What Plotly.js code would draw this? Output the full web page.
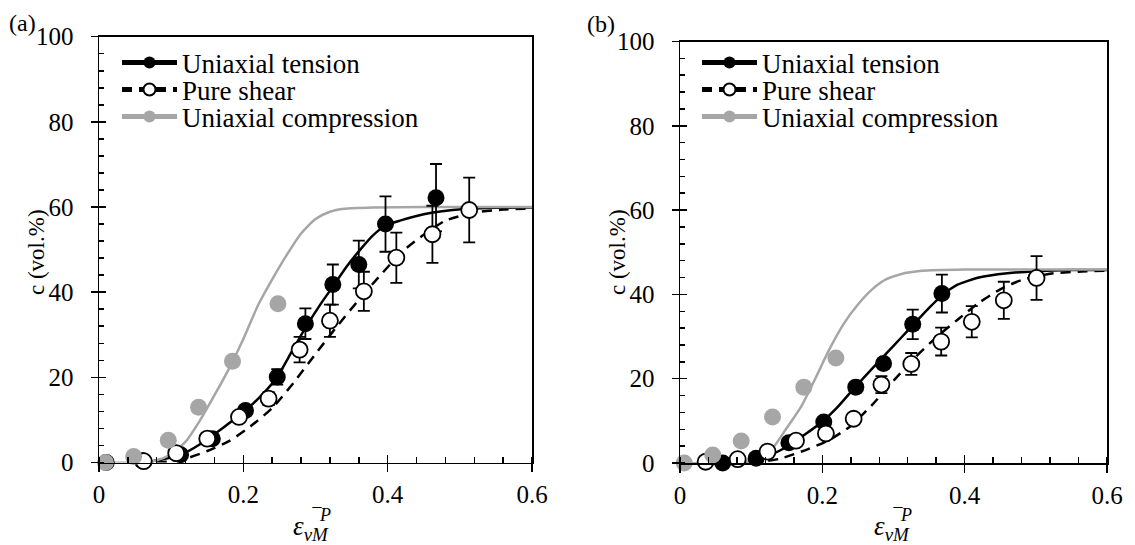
<!DOCTYPE html>
<html>
<head>
<meta charset="utf-8">
<script src="https://cdn.plot.ly/plotly-3.0.1.min.js"></script>
<style>html,body{margin:0;padding:0;background:#fff;}#chart{width:1135px;height:545px;}</style>
</head>
<body>
<div id="chart"></div>
<script>
// ---------- data ----------
var seriesNames = ["Uniaxial tension", "Pure shear", "Uniaxial compression"];
var xTickVals = [0, 0.2, 0.4, 0.6];
var yTickVals = [0, 20, 40, 60, 80, 100];

// Panel (a) measured points
var aTensionX = [0.01, 0.06, 0.113, 0.157, 0.203, 0.247, 0.286, 0.324, 0.36, 0.397, 0.467];
var aTensionY = [0, 0.4, 1.8, 5.6, 12.2, 20.1, 32.6, 41.8, 46.5, 56.0, 62.2];
var aTensionErr = [0, 0, 0, 0, 1, 1.8, 3.6, 4.7, 5.6, 6.5, 7.9];
var aShearX = [0.062, 0.107, 0.150, 0.194, 0.235, 0.278, 0.320, 0.367, 0.412, 0.462, 0.513];
var aShearY = [0.3, 2.2, 5.6, 10.7, 15.0, 26.5, 33.3, 40.2, 48.1, 53.6, 59.3];
var aShearErr = [0, 0, 0, 0, 1.5, 3, 3.8, 4.6, 5.9, 6.7, 7.6];
var aCompX = [0.009, 0.048, 0.096, 0.138, 0.185, 0.248];
var aCompY = [0, 1.4, 5.2, 13.0, 23.8, 37.3];

// Panel (a) fitted curves
var aTensionFitX = [0.05, 0.07, 0.09, 0.113, 0.14, 0.173, 0.203, 0.228, 0.247, 0.265, 0.286, 0.307, 0.324, 0.343, 0.362, 0.38, 0.397, 0.417, 0.44, 0.463, 0.49, 0.514, 0.55, 0.6];
var aTensionFitY = [0, 0.2, 0.8, 1.8, 4.3, 8.3, 12.2, 16.3, 20.1, 25.4, 31.6, 37.2, 41.3, 46, 50, 53.4, 55.6, 56.8, 57.9, 58.7, 59.3, 59.6, 59.8, 59.9];
var aShearFitX = [0.08, 0.10, 0.12, 0.15, 0.18, 0.21, 0.24, 0.27, 0.30, 0.33, 0.36, 0.39, 0.42, 0.45, 0.48, 0.52, 0.56, 0.6];
var aShearFitY = [0, 0.3, 0.9, 2.7, 5, 8.5, 12.8, 18.8, 25.5, 32, 38.2, 44, 49.5, 53.5, 56.8, 58.7, 59.4, 59.6];
var aCompFitX = [0, 0.06, 0.08, 0.10, 0.12, 0.14, 0.16, 0.18, 0.20, 0.22, 0.24, 0.26, 0.28, 0.30, 0.32, 0.34, 0.38, 0.45, 0.6];
var aCompFitY = [0, 0, 0.5, 2, 4.9, 9.9, 15.8, 22, 29, 36.8, 43, 48.7, 53.8, 57.2, 58.9, 59.6, 59.9, 60, 60];

// Panel (b) measured points
var bTensionX = [0.06, 0.107, 0.153, 0.202, 0.247, 0.286, 0.327, 0.368];
var bTensionY = [0, 1.1, 4.8, 9.7, 18.0, 23.6, 32.9, 40.2];
var bTensionErr = [0, 0, 0, 0, 0.5, 1, 3.5, 4.5];
var bShearX = [0.036, 0.081, 0.123, 0.163, 0.205, 0.244, 0.283, 0.325, 0.367, 0.41, 0.455, 0.501];
var bShearY = [0.3, 0.9, 2.7, 5.3, 7.0, 10.5, 18.6, 23.5, 28.8, 33.5, 38.6, 43.9];
var bShearErr = [0, 0, 0, 0, 0, 0, 2, 2.6, 3.3, 3.7, 4.4, 5.2];
var bCompX = [0.006, 0.046, 0.086, 0.130, 0.174, 0.219];
var bCompY = [0, 1.9, 5.2, 10.9, 18.0, 24.9];

// Panel (b) fitted curves
var bTensionFitX = [0.06, 0.09, 0.12, 0.15, 0.18, 0.2, 0.22, 0.245, 0.27, 0.29, 0.31, 0.33, 0.35, 0.37, 0.39, 0.42, 0.46, 0.5, 0.55, 0.6];
var bTensionFitY = [0, 0.3, 1.5, 3.8, 7.3, 9.8, 13, 17.8, 22.4, 26, 29.6, 33.2, 36.8, 40, 42.3, 44, 45, 45.5, 45.8, 45.8];
var bShearFitX = [0.1, 0.14, 0.18, 0.21, 0.24, 0.27, 0.30, 0.33, 0.36, 0.39, 0.42, 0.45, 0.48, 0.52, 0.56, 0.6];
var bShearFitY = [0, 1, 3.3, 5.5, 8.8, 13.8, 19.5, 25, 29.8, 34, 38, 41.2, 43.4, 44.9, 45.4, 45.6];
var bCompFitX = [0, 0.08, 0.11, 0.13, 0.15, 0.17, 0.19, 0.21, 0.23, 0.25, 0.27, 0.29, 0.31, 0.34, 0.4, 0.6];
var bCompFitY = [0, 0, 1.2, 3.5, 8.3, 13.3, 20, 27, 33, 37.6, 41.2, 43.6, 44.8, 45.6, 45.9, 45.9];

// ---------- styling ----------
var FONT = "'Liberation Serif', 'Times New Roman', Times, serif";
var BLACK = "#000000";
var GREY = "#a6a6a6";

function panel(p, xa, ya, oxa, oya, legs) {
  var tr = [];
  tr.push({x: p.tfx, y: p.tfy, xaxis: xa, yaxis: ya, mode: "lines", line: {color: BLACK, width: 2.5, shape: "spline", smoothing: 0.6}, showlegend: false, hoverinfo: "skip"});
  tr.push({x: p.sfx, y: p.sfy, xaxis: xa, yaxis: ya, mode: "lines", line: {color: BLACK, width: 2.5, dash: "10px,7px", shape: "spline", smoothing: 0.6}, showlegend: false, hoverinfo: "skip"});
  tr.push({x: p.cfx, y: p.cfy, xaxis: xa, yaxis: ya, mode: "lines", line: {color: GREY, width: 2.5, shape: "spline", smoothing: 0.6}, showlegend: false, hoverinfo: "skip"});
  tr.push({x: p.tx, y: p.ty, xaxis: oxa, yaxis: oya, mode: "markers", cliponaxis: false,
    marker: {symbol: "circle", size: 17, color: BLACK, line: {width: 0}},
    error_y: {type: "data", array: p.te, visible: true, color: BLACK, thickness: 1.8, width: 6},
    showlegend: false});
  tr.push({x: p.sx, y: p.sy, xaxis: oxa, yaxis: oya, mode: "markers", cliponaxis: false,
    marker: {symbol: "circle", size: 16, color: "#ffffff", line: {width: 1.8, color: BLACK}},
    error_y: {type: "data", array: p.se, visible: true, color: BLACK, thickness: 1.8, width: 6},
    showlegend: false});
  tr.push({x: p.cx, y: p.cy, xaxis: oxa, yaxis: oya, mode: "markers", cliponaxis: false,
    marker: {symbol: "circle", size: 17, color: GREY, line: {width: 0}},
    showlegend: false});
  tr.push({x: [null], y: [null], xaxis: xa, yaxis: ya, mode: "lines+markers", name: seriesNames[0], legend: legs[0],
    line: {color: BLACK, width: 2.5}, marker: {color: BLACK, size: 13}});
  tr.push({x: [null], y: [null], xaxis: xa, yaxis: ya, mode: "lines+markers", name: seriesNames[1], legend: legs[1],
    line: {color: BLACK, width: 2.5, dash: "10px,7px"}, marker: {color: "#fff", size: 11, line: {color: BLACK, width: 1.8}}});
  tr.push({x: [null], y: [null], xaxis: xa, yaxis: ya, mode: "lines+markers", name: seriesNames[2], legend: legs[2],
    line: {color: GREY, width: 2.5}, marker: {color: GREY, size: 13}});
  return tr;
}

var data = [].concat(
  panel({tfx: aTensionFitX, tfy: aTensionFitY, sfx: aShearFitX, sfy: aShearFitY, cfx: aCompFitX, cfy: aCompFitY,
         tx: aTensionX, ty: aTensionY, te: aTensionErr, sx: aShearX, sy: aShearY, se: aShearErr, cx: aCompX, cy: aCompY},
        "x", "y", "x3", "y3", ["legend", "legend2", "legend3"]),
  panel({tfx: bTensionFitX, tfy: bTensionFitY, sfx: bShearFitX, sfy: bShearFitY, cfx: bCompFitX, cfy: bCompFitY,
         tx: bTensionX, ty: bTensionY, te: bTensionErr, sx: bShearX, sy: bShearY, se: bShearErr, cx: bCompX, cy: bCompY},
        "x2", "y2", "x4", "y4", ["legend4", "legend5", "legend6"])
);

var W = 1135, H = 545;
function px(v) { return v / W; }
function py(v) { return 1 - v / H; }

function baseX(dom, anchor) {
  return {domain: dom, anchor: anchor, range: [0, 0.6], tickvals: xTickVals, ticks: "outside", ticklen: 8, tickwidth: 1.5, tickcolor: BLACK,
    minor: {dtick: 0.04, tick0: 0, ticks: "inside", ticklen: 6, tickwidth: 1.5, tickcolor: BLACK},
    showline: true, linecolor: BLACK, linewidth: 1.5, mirror: true, showgrid: false, zeroline: false,
    tickfont: {family: FONT, size: 25, color: BLACK}, ticklabelstandoff: 1, fixedrange: true};
}
function baseY(dom, anchor) {
  return {domain: dom, anchor: anchor, range: [0, 100], tickvals: yTickVals, ticks: "outside", ticklen: 7, tickwidth: 1.5, tickcolor: BLACK,
    minor: {dtick: 4, tick0: 0, ticks: "inside", ticklen: 5, tickwidth: 1.5, tickcolor: BLACK},
    showline: true, linecolor: BLACK, linewidth: 1.5, mirror: true, showgrid: false, zeroline: false,
    tickfont: {family: FONT, size: 25, color: BLACK}, ticklabelstandoff: 12, fixedrange: true};
}
function overX(base, anchor) {
  return {overlaying: base, anchor: anchor, range: [0, 0.6], tickvals: xTickVals, ticks: "inside", ticklen: 8, tickwidth: 1.5, tickcolor: BLACK,
    showticklabels: false, showline: false, showgrid: false, zeroline: false, fixedrange: true};
}
function overY(base, anchor) {
  return {overlaying: base, anchor: anchor, range: [0, 100], tickvals: yTickVals, ticks: "inside", ticklen: 7, tickwidth: 1.5, tickcolor: BLACK,
    showticklabels: false, showline: false, showgrid: false, zeroline: false, fixedrange: true};
}

var domAX = [px(99), px(532)], domAY = [py(462.5), py(36.7)];
var domBX = [px(680), px(1107)], domBY = [py(463), py(41.5)];

function leg(xp, yp) {
  return {x: px(xp), y: py(yp), xanchor: "left", yanchor: "middle", bgcolor: "rgba(0,0,0,0)", borderwidth: 0,
    font: {family: FONT, size: 27, color: BLACK}, itemwidth: 55, itemsizing: "constant", tracegroupgap: 0};
}

var annFont = {family: FONT, size: 24, color: BLACK};
var layout = {
  width: W, height: H, margin: {l: 0, r: 0, t: 0, b: 0}, paper_bgcolor: "#fff", plot_bgcolor: "rgba(0,0,0,0)",
  showlegend: true, hovermode: false, font: {family: FONT, color: BLACK},
  xaxis: baseX(domAX, "y"), yaxis: baseY(domAY, "x"),
  xaxis2: baseX(domBX, "y2"), yaxis2: baseY(domBY, "x2"),
  xaxis3: overX("x", "y3"), yaxis3: overY("y", "x3"),
  xaxis4: overX("x2", "y4"), yaxis4: overY("y2", "x4"),
  legend: leg(117, 63), legend2: leg(117, 90), legend3: leg(117, 117),
  legend4: leg(697, 63), legend5: leg(697, 90), legend6: leg(697, 117),
  annotations: [
    {text: "(a)", xref: "paper", yref: "paper", x: px(22), y: py(23), xanchor: "center", yanchor: "middle", showarrow: false, font: annFont},
    {text: "(b)", xref: "paper", yref: "paper", x: px(601), y: py(24), xanchor: "center", yanchor: "middle", showarrow: false, font: annFont},
    {text: "c (vol.%)", xref: "paper", yref: "paper", x: px(36), y: py(252), xanchor: "center", yanchor: "middle", textangle: -90, showarrow: false, font: {family: FONT, size: 23, color: BLACK}},
    {text: "c (vol.%)", xref: "paper", yref: "paper", x: px(617), y: py(252), xanchor: "center", yanchor: "middle", textangle: -90, showarrow: false, font: {family: FONT, size: 23, color: BLACK}},
    {text: "<i>ε</i><sub><i>vM</i></sub>", xref: "paper", yref: "paper", x: px(311), y: py(528), xanchor: "center", yanchor: "middle", showarrow: false, font: {family: FONT, size: 27, color: BLACK}},
    {text: "<i>¯P</i>", xref: "paper", yref: "paper", x: px(321), y: py(515), xanchor: "center", yanchor: "middle", showarrow: false, font: {family: FONT, size: 18, color: BLACK}},
    {text: "<i>ε</i><sub><i>vM</i></sub>", xref: "paper", yref: "paper", x: px(892), y: py(528), xanchor: "center", yanchor: "middle", showarrow: false, font: {family: FONT, size: 27, color: BLACK}},
    {text: "<i>¯P</i>", xref: "paper", yref: "paper", x: px(902), y: py(515), xanchor: "center", yanchor: "middle", showarrow: false, font: {family: FONT, size: 18, color: BLACK}}
  ]
};

Plotly.newPlot("chart", data, layout, {staticPlot: true, displayModeBar: false});
</script>
</body>
</html>
